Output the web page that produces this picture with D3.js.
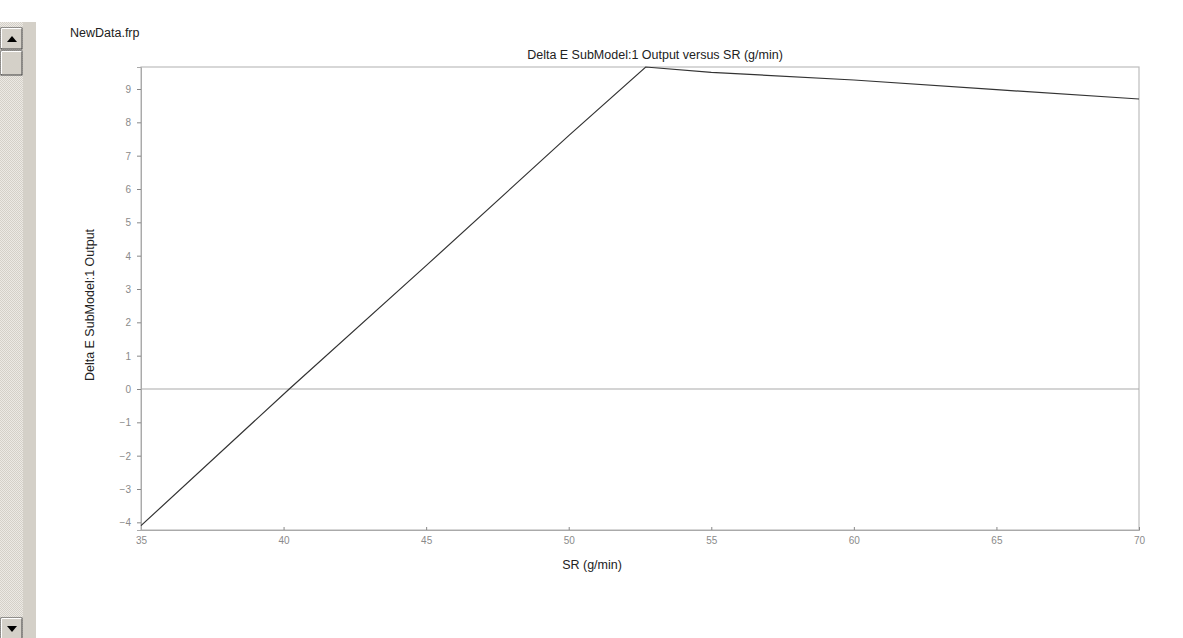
<!DOCTYPE html>
<html><head><meta charset="utf-8">
<script src="https://cdn.jsdelivr.net/npm/d3@7"></script>
<style>
body{margin:0;background:#fff;overflow:hidden;}
svg{display:block;font-family:"Liberation Sans",Arial,sans-serif;}
</style></head>
<body>
<svg id="c" width="1183" height="638"></svg>
<script>
const srValues = [35, 40.2, 45, 50, 52.7, 55, 60, 65, 70];
const outputValues = [-4.1, 0, 3.7, 7.6, 9.66, 9.5, 9.27, 8.98, 8.7];
const xTicks = [35, 40, 45, 50, 55, 60, 65, 70];
const yTicks = [-4, -3, -2, -1, 0, 1, 2, 3, 4, 5, 6, 7, 8, 9];
const fileName = "NewData.frp";
const titleText = "Delta E SubModel:1 Output versus SR (g/min)";
const xLabel = "SR (g/min)";
const yLabel = "Delta E SubModel:1 Output";

const svg = d3.select("#c");
const L = 141, R = 1139, T = 67, B = 530;

// scrollbar
const sb = svg.append("g");
const pat = svg.append("defs").append("pattern").attr("id","dith").attr("width",2).attr("height",2).attr("patternUnits","userSpaceOnUse");
pat.append("rect").attr("width",2).attr("height",2).attr("fill","#ece9e4");
pat.append("rect").attr("width",1).attr("height",1).attr("fill","#d4d0c8");
pat.append("rect").attr("x",1).attr("y",1).attr("width",1).attr("height",1).attr("fill","#d4d0c8");
sb.append("rect").attr("x",0).attr("y",22).attr("width",36).attr("height",616).attr("fill","#d4d0c8");
sb.append("rect").attr("x",0).attr("y",22).attr("width",23).attr("height",616).attr("fill","url(#dith)");
function btn(y,h){
  sb.append("rect").attr("x",1).attr("y",y).attr("width",21).attr("height",h).attr("fill","#d4d0c8").attr("stroke","#404040");
  sb.append("path").attr("d",`M1.5,${y+h-1}V${y+0.5}H21.5`).attr("stroke","#fff").attr("fill","none");
}
btn(28,21); btn(51,24); btn(618,22);
sb.append("path").attr("d","M7,42L12,36L17,42Z").attr("fill","#000");
sb.append("path").attr("d","M7,626L12,632L17,626Z").attr("fill","#000");

const x = d3.scaleLinear().domain([35,70]).range([L,R]);
const y = d3.scaleLinear().domain([-4.23,9.66]).range([B,T]);

// frame
svg.append("rect").attr("x",L).attr("y",T).attr("width",R-L).attr("height",B-T)
  .attr("fill","none").attr("stroke","#bdbdbd").attr("stroke-width",1.2);

const xa = svg.append("g").attr("transform",`translate(0,${B})`)
  .call(d3.axisBottom(x).tickValues(xTicks).tickSize(-3).tickPadding(7));
const ya = svg.append("g").attr("transform",`translate(${L},0)`)
  .call(d3.axisLeft(y).tickValues(yTicks).tickSize(4).tickPadding(6));
[xa,ya].forEach(a=>{
  a.select(".domain").attr("stroke","#aaa");
  a.selectAll(".tick line").attr("stroke","#888");
  a.selectAll("text").attr("fill","#8a8a8a").attr("font-size","10px").attr("font-family","'Liberation Sans',Arial,sans-serif");
});
ya.selectAll(".tick text").attr("dy","0.35em");

// zero line
svg.append("line").attr("x1",L).attr("x2",R).attr("y1",y(0)).attr("y2",y(0)).attr("stroke","#aaa").attr("stroke-width",1.2);

const pts = srValues.map((v,i)=>[v,outputValues[i]]);
svg.append("path").datum(pts)
  .attr("d", d3.line().x(d=>x(d[0])).y(d=>y(d[1])))
  .attr("fill","none").attr("stroke","#333").attr("stroke-width",1.2);

svg.append("text").attr("x",70).attr("y",37).attr("font-size","12.5px").attr("fill","#222").text(fileName);
svg.append("text").attr("x",(L+R)/2+15).attr("y",59).attr("text-anchor","middle").attr("font-size","12.5px").attr("fill","#222").text(titleText);
svg.append("text").attr("x",592).attr("y",569).attr("text-anchor","middle").attr("font-size","12.5px").attr("fill","#222").text(xLabel);
svg.append("text").attr("transform","translate(94,305) rotate(-90)").attr("text-anchor","middle").attr("font-size","12.5px").attr("fill","#222").text(yLabel);
</script>
</body></html>
